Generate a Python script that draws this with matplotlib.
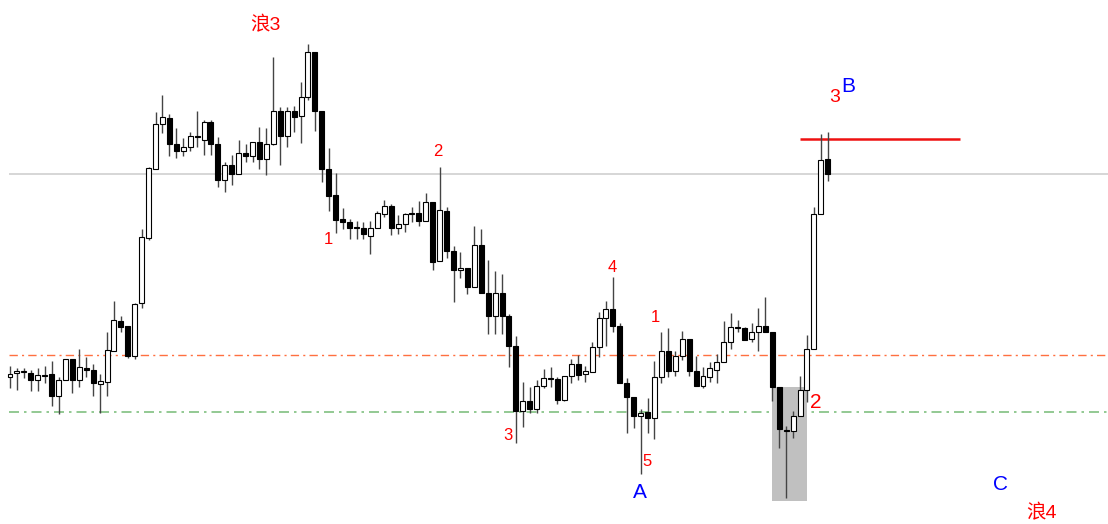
import numpy as np
import matplotlib
matplotlib.use("Agg")
import matplotlib.pyplot as plt
from matplotlib.patches import Rectangle

plt.rcParams['font.family'] = ['Liberation Sans', 'Noto Sans CJK SC', 'DejaVu Sans']

# ---------------------------
# OHLC data (price in chart units)
# ---------------------------
opens = [147, 151, 152, 151, 144, 149, 150, 128, 144, 165,
         144, 156, 154, 140, 142, 173, 203, 198, 168, 221,
         286, 355, 400, 406, 380, 373, 377, 388, 384, 402,
         380, 344, 359, 350, 371, 368, 382, 365, 380, 413,
         388, 413, 408, 427, 472, 413, 355, 329, 305, 302,
         297, 296, 288, 296, 310, 318, 296, 300, 311, 311,
         303, 322, 263, 313, 273, 254, 256, 237, 279, 231,
         208, 231, 208, 178, 113, 123, 115, 138, 146, 145,
         124, 148, 160, 150, 152, 177, 206, 215, 198, 141,
         127, 108, 112, 106, 147, 173, 153, 168, 185, 153,
         138, 147, 154, 162, 182, 197, 196, 185, 192, 198,
         192, 137, 94, 93, 108, 134, 175, 310, 365]
highs = [158, 156, 156, 154, 156, 158, 163, 147, 165, 165,
         175, 167, 160, 150, 192, 223, 208, 198, 221, 295,
         357, 412, 429, 410, 396, 386, 392, 413, 404, 404,
         387, 362, 369, 384, 380, 382, 397, 396, 467, 417,
         417, 418, 442, 480, 472, 413, 376, 351, 316, 305,
         303, 302, 303, 313, 324, 320, 309, 311, 317, 323,
         331, 322, 357, 317, 278, 272, 256, 298, 295, 264,
         253, 250, 210, 188, 142, 137, 144, 155, 157, 147,
         148, 165, 169, 158, 182, 212, 223, 247, 201, 146,
         127, 115, 126, 163, 192, 196, 173, 193, 185, 168,
         157, 162, 170, 203, 211, 204, 197, 201, 216, 227,
         192, 137, 98, 113, 148, 189, 317, 390, 392]
lows = [136, 134, 146, 133, 133, 141, 118, 110, 144, 131,
        137, 147, 128, 111, 128, 173, 192, 166, 165, 216,
        284, 355, 391, 368, 366, 368, 373, 377, 369, 369,
        337, 332, 339, 350, 362, 362, 355, 349, 379, 359,
        377, 392, 381, 424, 393, 342, 313, 291, 295, 285,
        285, 285, 270, 296, 307, 289, 290, 292, 302, 298,
        303, 254, 263, 266, 222, 246, 230, 237, 231, 190,
        190, 190, 157, 81, 97, 111, 111, 136, 137, 120,
        123, 141, 144, 142, 152, 167, 178, 192, 141, 91,
        96, 50, 91, 85, 141, 147, 148, 164, 148, 138,
        136, 142, 141, 162, 175, 192, 184, 182, 173, 192,
        123, 76, 26, 86, 108, 122, 175, 310, 343]
closes = [150, 153, 153, 144, 149, 148, 128, 144, 165, 144,
          157, 154, 141, 143, 174, 204, 197, 168, 220, 287,
          356, 400, 407, 380, 373, 377, 388, 387, 402, 380,
          344, 359, 350, 371, 368, 382, 365, 380, 413, 388,
          413, 407, 427, 472, 413, 355, 328, 304, 302, 296,
          296, 290, 296, 311, 318, 296, 300, 310, 310, 303,
          322, 262, 314, 273, 254, 256, 237, 279, 231, 208,
          231, 208, 178, 113, 123, 115, 138, 146, 145, 124,
          148, 160, 149, 153, 177, 206, 215, 198, 141, 127,
          108, 111, 106, 147, 173, 153, 168, 185, 153, 138,
          148, 156, 162, 182, 197, 196, 184, 192, 198, 192,
          137, 95, 93, 108, 134, 175, 310, 364, 350]

# Horizontal levels
level_gray = 350
level_orange = 169
level_green = 112
level_red = 385
red_from, red_to = 114, 137.1

# Shaded zone (bar index range, price range)
zone_x = (110.0, 115.0)
zone_y = (23, 137)

# Wave labels: (text, bar position, price, colour, size)
labels = [
    ("浪3", 36.9, 499, "red", 14),
    ("1", 45.9, 284, "red", 12),
    ("2", 61.8, 372, "red", 12),
    ("3", 71.9, 88, "red", 12),
    ("4", 86.9, 257, "red", 12),
    ("5", 91.9, 62, "red", 12),
    ("1", 93.1, 206, "red", 12),
    ("A", 90.9, 31, "blue", 15),
    ("2", 116.2, 121, "red", 15),
    ("3", 119.0, 426, "red", 14),
    ("B", 120.9, 438, "blue", 15),
    ("C", 142.9, 39, "blue", 15),
    ("浪4", 148.9, 11, "red", 14),
]

# ---------------------------
# Plot
# ---------------------------
fig = plt.figure(figsize=(11.08, 5.24), dpi=100)
ax = fig.add_axes([0, 0, 1, 1])
step = 6.93
ax.set_xlim(-10 / step, (1108 - 10) / step)
ax.set_ylim(0, 524)
ax.axis('off')

ax.add_patch(Rectangle((zone_x[0], zone_y[0]), zone_x[1] - zone_x[0], zone_y[1] - zone_y[0],
                       facecolor='#c0c0c0', edgecolor='none', zorder=1))

xmax = (1108 - 10) / step
ax.hlines(level_gray, -0.15, xmax, color='#d0d0d0', lw=1.2, zorder=0)
ax.hlines(level_orange, -0.15, xmax, color='#ff7040', lw=1.0, linestyles=(0, (6, 3, 1.5, 3)), zorder=0)
ax.hlines(level_green, -0.15, xmax, color='#80c080', lw=1.2, linestyles=(0, (6, 3, 1.5, 3)), zorder=0)
ax.hlines(level_red, red_from, red_to, color='#ee1111', lw=1.8, zorder=2)

w = 0.72
for i, (o, h, l, c) in enumerate(zip(opens, highs, lows, closes)):
    ax.vlines(i, l, h, color='#444444', lw=1.0, zorder=3)
    bottom = min(o, c)
    height = max(abs(c - o), 1)
    face = 'white' if c >= o else 'black'
    ax.add_patch(Rectangle((i - w / 2, bottom), w, height, facecolor=face,
                           edgecolor='black', lw=0.8, zorder=4))

for text, x, y, col, size in labels:
    ax.text(x, y, text, color=col, fontsize=size, ha='center', va='center', zorder=5)

fig.savefig('out.png', dpi=100)
